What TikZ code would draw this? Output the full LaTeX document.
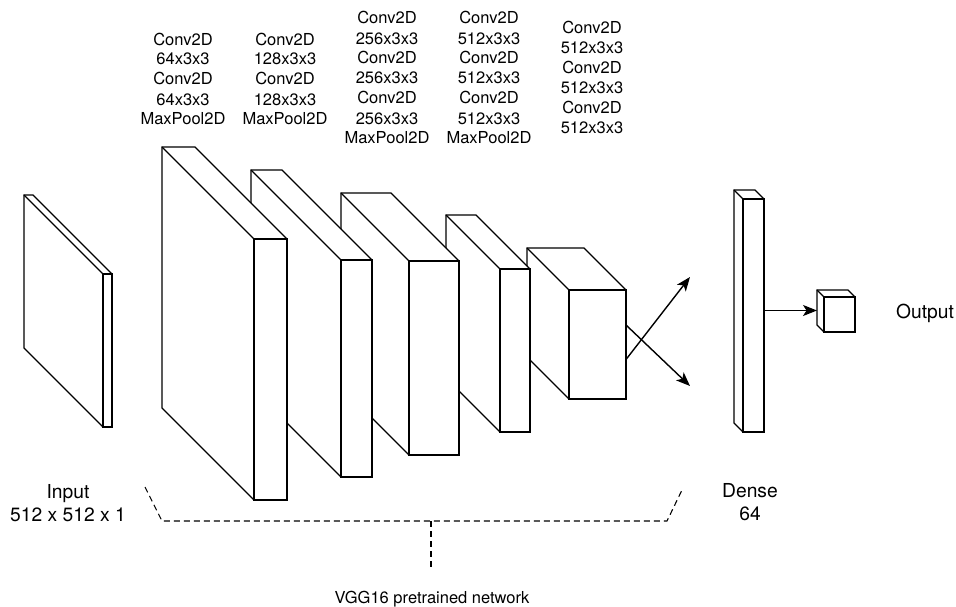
\documentclass[tikz,border=0pt]{standalone}
\usepackage{fontspec}
\setmainfont{TeX Gyre Heros}
\usetikzlibrary{arrows.meta,calc}

% A layer drawn as a box in oblique view: front face at (x,y) of size w x h,
% the back face shifted up-left by d. Args: name, x, y, w, h, d.
\newcommand{\layerbox}[6]{%
  \filldraw[edge3d, fill=white] (#2-#6,#3-#6) -- (#2-#6+#4,#3-#6) -- (#2+#4,#3)
    -- (#2+#4,#3+#5) -- (#2,#3+#5) -- (#2-#6,#3+#5-#6) -- cycle;
  \draw[edge3d] (#2-#6,#3-#6) -- (#2,#3);
  \node[face, minimum width=#4pt, minimum height=#5pt, anchor=north west] (#1) at (#2,#3) {};
}

\begin{document}
\begin{tikzpicture}[x=1pt,y=-1pt,
  edge3d/.style={line width=1.4pt, line join=miter},
  face/.style={draw, fill=white, inner sep=0pt, outer sep=0pt, line width=1.4pt},
  layertext/.style={font=\fontsize{16.5}{20}\selectfont, align=center, inner sep=0pt, anchor=base},
  bigtext/.style={font=\fontsize{19.25}{23}\selectfont, align=center, inner sep=0pt, anchor=base},
  flow/.style={line width=1.4pt, -{Stealth[length=14pt,width=11pt,inset=3.5pt]}},
  bracket/.style={line width=1.1pt, dash pattern=on 6pt off 4pt}
]
\useasboundingbox (0,0) rectangle (956,607);

% convolution blocks, back to front
\layerbox{b5}{569}{290}{57}{109}{42}
\layerbox{b4}{500}{269}{30}{163}{54}
\layerbox{b3}{409}{261}{50}{194}{68}
\layerbox{b2}{341}{260}{31}{217}{90}
\layerbox{b1}{254}{239}{33}{261}{92}

% input slab, dense layer and output unit
\layerbox{input}{103}{274}{9}{153}{79}
\layerbox{dense}{743}{199}{21}{233}{9}
\layerbox{out}{824}{297}{31}{35}{7}

% block labels (anchored at the baseline of their last line)
\node[layertext] (t1) at (183,125) {Conv2D\\64x3x3\\Conv2D\\64x3x3\\MaxPool2D};
\node[layertext] (t2) at (285,125) {Conv2D\\128x3x3\\Conv2D\\128x3x3\\MaxPool2D};
\node[layertext] (t3) at (387,144) {Conv2D\\256x3x3\\Conv2D\\256x3x3\\Conv2D\\256x3x3\\MaxPool2D};
\node[layertext] (t4) at (489,144) {Conv2D\\512x3x3\\Conv2D\\512x3x3\\Conv2D\\512x3x3\\MaxPool2D};
\node[layertext] (t5) at (592,134) {Conv2D\\512x3x3\\Conv2D\\512x3x3\\Conv2D\\512x3x3};

\node[bigtext] (tin) at (68,521) {Input\\512 x 512 x 1};
\node[bigtext] (tdense) at (750,520) {Dense\\64};
\node[bigtext] (tout) at (925,318) {Output};
\node[layertext] (tvgg) at (432,603) {VGG16 pretrained network};

% flattening arrows and dense-to-output arrow
\coordinate (upTip) at (690,277);
\coordinate (downTip) at (690,386);
\draw[flow] ($(b5.east)+(0,15)$) -- (upTip);
\draw[flow] ($(b5.east)+(0,-19.5)$) -- (downTip);
\coordinate (outLeft) at (817,310.5);
\draw[flow] (dense.east |- outLeft) -- (outLeft);

% bracket spanning the pretrained network
\coordinate (brL) at (145,487);
\coordinate (brLc) at (162,521);
\coordinate (brRc) at (667,521);
\coordinate (brR) at (683,488);
\coordinate (brMid) at (431,521);
\coordinate (brTail) at (431,567);
\draw[bracket] (brL) -- (brLc) -- (brRc) -- (brR);
\draw[bracket] (brMid) -- (brTail);
\end{tikzpicture}
\end{document}
